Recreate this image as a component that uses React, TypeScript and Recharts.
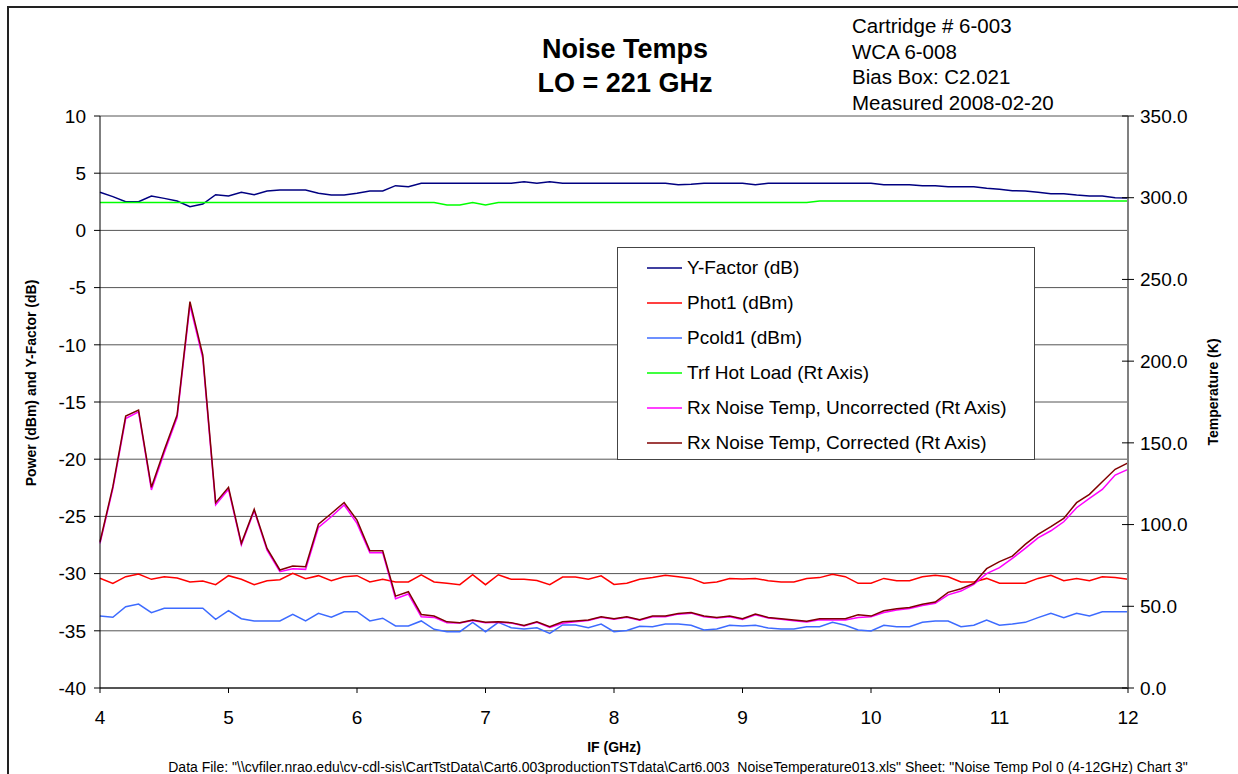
import React from "react";
import {
  LineChart,
  Line,
  XAxis,
  YAxis,
  CartesianGrid,
} from "recharts";

// IF frequency (GHz), 0.1 GHz steps
const FREQ = [
  4.0, 4.1, 4.2, 4.3, 4.4, 4.5, 4.6, 4.7, 4.8, 4.9,
  5.0, 5.1, 5.2, 5.3, 5.4, 5.5, 5.6, 5.7, 5.8, 5.9,
  6.0, 6.1, 6.2, 6.3, 6.4, 6.5, 6.6, 6.7, 6.8, 6.9,
  7.0, 7.1, 7.2, 7.3, 7.4, 7.5, 7.6, 7.7, 7.8, 7.9,
  8.0, 8.1, 8.2, 8.3, 8.4, 8.5, 8.6, 8.7, 8.8, 8.9,
  9.0, 9.1, 9.2, 9.3, 9.4, 9.5, 9.6, 9.7, 9.8, 9.9,
  10.0, 10.1, 10.2, 10.3, 10.4, 10.5, 10.6, 10.7, 10.8, 10.9,
  11.0, 11.1, 11.2, 11.3, 11.4, 11.5, 11.6, 11.7, 11.8, 11.9,
  12.0,
];

// left axis (dB / dBm)
const Y_FACTOR = [
  3.33, 2.95, 2.51, 2.51, 3.0, 2.8, 2.57, 2.07, 2.3, 3.12,
  3.0, 3.33, 3.12, 3.44, 3.53, 3.53, 3.53, 3.24, 3.09, 3.09,
  3.24, 3.44, 3.44, 3.91, 3.82, 4.12, 4.12, 4.12, 4.12, 4.12,
  4.12, 4.12, 4.12, 4.26, 4.12, 4.26, 4.12, 4.12, 4.12, 4.12,
  4.12, 4.12, 4.12, 4.12, 4.12, 4.0, 4.03, 4.12, 4.12, 4.12,
  4.12, 4.0, 4.12, 4.12, 4.12, 4.12, 4.12, 4.12, 4.12, 4.12,
  4.12, 4.0, 4.0, 4.0, 3.91, 3.91, 3.82, 3.82, 3.82, 3.68,
  3.59, 3.47, 3.44, 3.33, 3.21, 3.21, 3.09, 3.0, 3.0, 2.86,
  2.83,
];

const PHOT1 = [
  -30.41, -30.85, -30.27, -30.03, -30.5, -30.27, -30.38, -30.73, -30.65, -30.97,
  -30.18, -30.5, -30.97, -30.62, -30.53, -29.97, -30.45, -30.18, -30.62, -30.27,
  -30.18, -30.73, -30.5, -30.73, -30.73, -30.1, -30.73, -30.85, -30.97, -30.1,
  -30.97, -30.1, -30.5, -30.5, -30.6, -30.97, -30.3, -30.3, -30.5, -30.2,
  -30.95, -30.85, -30.5, -30.35, -30.15, -30.27, -30.42, -30.85, -30.73, -30.42,
  -30.47, -30.42, -30.62, -30.73, -30.73, -30.42, -30.35, -30.06, -30.27, -30.85,
  -30.85, -30.42, -30.62, -30.62, -30.27, -30.15, -30.27, -30.73, -30.73, -30.42,
  -30.85, -30.85, -30.85, -30.42, -30.15, -30.62, -30.42, -30.62, -30.27, -30.35,
  -30.5,
];

const PCOLD1 = [
  -33.71, -33.82, -32.89, -32.66, -33.42, -33.03, -33.03, -33.03, -33.03, -34.0,
  -33.24, -33.94, -34.14, -34.14, -34.14, -33.56, -34.14, -33.47, -33.82, -33.33,
  -33.33, -34.14, -33.9, -34.58, -34.58, -34.14, -34.87, -35.08, -35.08, -34.26,
  -35.08, -34.26, -34.73, -34.84, -34.73, -35.22, -34.49, -34.49, -34.73, -34.41,
  -35.08, -34.98, -34.6, -34.64, -34.41, -34.41, -34.52, -34.93, -34.85, -34.52,
  -34.58, -34.52, -34.75, -34.85, -34.85, -34.64, -34.64, -34.26, -34.52, -34.93,
  -35.02, -34.52, -34.64, -34.64, -34.26, -34.14, -34.14, -34.64, -34.52, -34.06,
  -34.52, -34.41, -34.26, -33.85, -33.47, -33.85, -33.47, -33.7, -33.33, -33.33,
  -33.33,
];

// right axis (K)
const TRF_HOT = [
  297, 297, 297, 297, 297, 297, 297, 297, 297, 297,
  297, 297, 297, 297, 297, 297, 297, 297, 297, 297,
  297, 297, 297, 297, 297, 297, 297, 295.5, 295.5, 297,
  295.5, 297, 297, 297, 297, 297, 297, 297, 297, 297,
  297, 297, 297, 297, 297, 297, 297, 297, 297, 297,
  297, 297, 297, 297, 297, 297, 298, 298, 298, 298,
  298, 298, 298, 298, 298, 298, 298, 298, 298, 298,
  298, 298, 298, 298, 298, 298, 298, 298, 298, 298,
  298,
];

const RX_UNCORR = [
  88.5, 122, 164.9, 169, 121.2, 144, 165.5, 234.3, 201.7, 112,
  121.6, 87.5, 108.5, 84.4, 71.2, 73, 72.6, 98.3, 104.8, 112,
  100.7, 82.8, 82.8, 54.6, 57.5, 43.6, 43.2, 40, 39.8, 41.3,
  40, 40.3, 39.8, 38, 40.2, 37, 39.6, 40.6, 41.3, 43.3,
  42.1, 43.3, 41.5, 43.6, 43.6, 45.2, 45.8, 43.6, 42.8, 43.6,
  42, 44.8, 42.8, 42, 41.2, 40.4, 41.8, 41.6, 41.6, 43.2,
  43.6, 46.2, 47.7, 48.7, 50.5, 51.8, 57, 59.3, 63.4, 70,
  73.6, 79.3, 85.4, 91.9, 96.2, 101.7, 110.3, 116, 121.5, 130.3,
  133.8,
];

const RX_CORR = [
  89.5, 123.2, 166.4, 170.1, 122.8, 145.6, 167, 236.4, 203.7, 113.4,
  122.8, 88.5, 109.3, 85.4, 72.2, 74.6, 74.2, 100.2, 106.8, 113.5,
  102.7, 84, 84, 56.2, 58.9, 45, 44, 40.5, 40, 41.6,
  40.2, 40.5, 40, 38.3, 40.5, 37.5, 40.5, 41, 41.6, 43.6,
  42.4, 43.6, 41.8, 44, 44, 45.6, 46.2, 44, 43.2, 44,
  42.4, 45.2, 43.2, 42.4, 41.6, 40.8, 42.4, 42.4, 42.4, 44.8,
  44, 47.3, 48.5, 49.3, 51.2, 52.6, 58.5, 60.7, 64, 73,
  77.3, 80.7, 87.9, 94, 98.7, 103.8, 113.4, 118.5, 126.2, 133.8,
  137.8,
];

const X_TICKS = [4, 5, 6, 7, 8, 9, 10, 11, 12];
const LEFT_TICKS = [-40, -35, -30, -25, -20, -15, -10, -5, 0, 5, 10];
const RIGHT_TICKS = [0, 50, 100, 150, 200, 250, 300, 350];

const INFO_LINES = [
  "Cartridge # 6-003",
  "WCA 6-008",
  "Bias Box: C2.021",
  "Measured 2008-02-20",
];

const LEGEND = [
  { name: "Y-Factor (dB)", color: "#000080" },
  { name: "Phot1 (dBm)", color: "#ff0000" },
  { name: "Pcold1 (dBm)", color: "#3d6bff" },
  { name: "Trf Hot Load (Rt Axis)", color: "#00ff00" },
  { name: "Rx Noise Temp, Uncorrected (Rt Axis)", color: "#ff00ff" },
  { name: "Rx Noise Temp, Corrected (Rt Axis)", color: "#800000" },
];

const FONT = "'Liberation Sans', Arial, sans-serif";

const rows = FREQ.map((f, i) => ({
  f,
  yf: Y_FACTOR[i],
  phot: PHOT1[i],
  pcold: PCOLD1[i],
  trf: TRF_HOT[i],
  unc: RX_UNCORR[i],
  cor: RX_CORR[i],
}));

// right axis uses "cross" ticks like Excel
const RightTick = (props: any) => {
  const { x, y, payload } = props;
  const axisX = x - 12;
  return (
    <g>
      <line x1={axisX - 6} x2={axisX} y1={y} y2={y} stroke="#000" />
      <text x={x} y={y} dy="0.35em" fontSize={19} fontFamily={FONT} fill="#000" textAnchor="start">
        {Number(payload.value).toFixed(1)}
      </text>
    </g>
  );
};

const abs = (left: number, top: number, extra: React.CSSProperties = {}): React.CSSProperties => ({
  position: "absolute",
  left,
  top,
  fontFamily: FONT,
  color: "#000",
  whiteSpace: "nowrap",
  ...extra,
});

const App = () => {
  return (
    <div
      style={{
        position: "absolute",
        left: 0,
        top: 0,
        width: 1238,
        height: 774,
        overflow: "hidden",
        background: "#fff",
      }}>
      {/* outer frame of the chart sheet */}
      <div
        style={{
          position: "absolute",
          left: 7,
          top: 6,
          width: 1400,
          height: 900,
          border: "2px solid #222",
        }}
      />

      <LineChart
        width={1238}
        height={774}
        data={rows}
        margin={{ top: 116, right: 0, bottom: 56, left: 0 }}
        style={{ position: "absolute", left: 0, top: 0 }}>
        <CartesianGrid yAxisId="left" vertical={false} stroke="#555" horizontalValues={LEFT_TICKS} />
        <XAxis
          dataKey="f"
          type="number"
          domain={[4, 12]}
          ticks={X_TICKS}
          height={30}
          stroke="#000"
          tickSize={5}
          tickMargin={18}
          tick={{ fontSize: 19, fontFamily: FONT, fill: "#000" }}
        />
        <YAxis
          yAxisId="left"
          domain={[-40, 10]}
          ticks={LEFT_TICKS}
          interval={0}
          width={100}
          stroke="#000"
          tickSize={6}
          tickMargin={8}
          tick={{ fontSize: 19, fontFamily: FONT, fill: "#000" }}
        />
        <YAxis
          yAxisId="right"
          orientation="right"
          domain={[0, 350]}
          ticks={RIGHT_TICKS}
          interval={0}
          width={110}
          stroke="#808080"
          axisLine={{ stroke: "#808080", strokeWidth: 2 }}
          tickLine={{ stroke: "#000" }}
          tickSize={6}
          tickMargin={6}
          tick={<RightTick />}
        />
        <Line yAxisId="left" dataKey="yf" stroke="#000080" strokeWidth={1.5} dot={false} isAnimationActive={false} />
        <Line yAxisId="left" dataKey="phot" stroke="#ff0000" strokeWidth={1.5} dot={false} isAnimationActive={false} />
        <Line yAxisId="left" dataKey="pcold" stroke="#3d6bff" strokeWidth={1.5} dot={false} isAnimationActive={false} />
        <Line yAxisId="right" dataKey="trf" stroke="#00ff00" strokeWidth={1.5} dot={false} isAnimationActive={false} />
        <Line yAxisId="right" dataKey="unc" stroke="#ff00ff" strokeWidth={1.5} dot={false} isAnimationActive={false} />
        <Line yAxisId="right" dataKey="cor" stroke="#800000" strokeWidth={1.5} dot={false} isAnimationActive={false} />
      </LineChart>

      {/* title */}
      <div style={abs(425, 32, { width: 400, textAlign: "center", fontSize: 27, fontWeight: "bold", lineHeight: "34px" })}>
        Noise Temps
        <br />
        LO = 221 GHz
      </div>

      {/* cartridge info */}
      <div style={abs(852, 13, { fontSize: 20.5, lineHeight: "25.7px" })}>
        {INFO_LINES.map((t) => (
          <div key={t}>{t}</div>
        ))}
      </div>

      {/* legend */}
      <div
        style={{
          position: "absolute",
          left: 617,
          top: 247,
          width: 416,
          height: 211,
          border: "1px solid #444",
          background: "#fff",
          fontFamily: FONT,
        }}>
        {LEGEND.map((item, i) => (
          <div
            key={item.name}
            style={{
              position: "absolute",
              left: 0,
              top: 8 + i * 35,
              height: 24,
              display: "flex",
              alignItems: "center",
              whiteSpace: "nowrap",
            }}>
            <svg width={69} height={24}>
              <line x1={29} x2={64} y1={12} y2={12} stroke={item.color} strokeWidth={1.5} />
            </svg>
            <span style={{ fontSize: 19, color: "#000" }}>{item.name}</span>
          </div>
        ))}
      </div>

      {/* axis titles */}
      <div
        style={abs(31, 383, {
          fontSize: 14,
          fontWeight: "bold",
          transform: "translate(-50%, -50%) rotate(-90deg)",
        })}>
        Power (dBm) and Y-Factor (dB)
      </div>
      <div
        style={abs(1213, 392, {
          fontSize: 14,
          fontWeight: "bold",
          transform: "translate(-50%, -50%) rotate(-90deg)",
        })}>
        Temperature (K)
      </div>
      <div style={abs(614, 747, { fontSize: 14, fontWeight: "bold", transform: "translate(-50%, -50%)" })}>
        IF (GHz)
      </div>

      {/* footer */}
      <div style={abs(678, 767, { fontSize: 14, transform: "translate(-50%, -50%)" })}>
        {'Data File: "\\\\cvfiler.nrao.edu\\cv-cdl-sis\\CartTstData\\Cart6.003productionTSTdata\\Cart6.003_NoiseTemperature013.xls"  Sheet: "Noise Temp Pol 0 (4-12GHz) Chart 3"'}
      </div>
    </div>
  );
};

export default App;
